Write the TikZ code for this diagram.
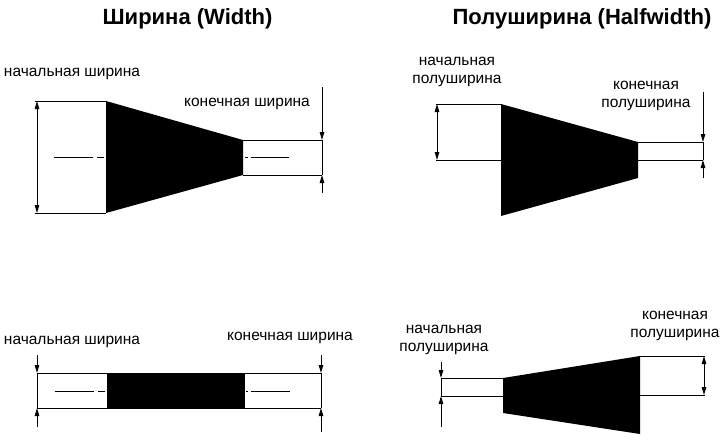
\documentclass[tikz,border=0pt]{standalone}
\usepackage{fontspec}
\setmainfont{Liberation Sans}
\usetikzlibrary{arrows.meta}
\tikzset{
  heading/.style={font=\fontsize{22}{24}\selectfont\bfseries},
  label/.style={font=\fontsize{15.5}{17.5}\selectfont,align=center,inner sep=0pt},
  edge/.style={line width=1pt,black},
  dim/.style={line width=1pt,black,-{Triangle[length=8pt,width=4.5pt]}},
  dimboth/.style={line width=1pt,black,{Triangle[length=8pt,width=4.5pt]}-{Triangle[length=8pt,width=4.5pt]}},
  axis/.style={line width=1pt,black},
}
\begin{document}
\begin{tikzpicture}[x=1pt,y=-1pt]
  \useasboundingbox (0,0) rectangle (721,440);

  % headings
  \node[heading] at (187.5,19) (widthtitle) {Ширина (Width)};
  \node[heading] at (582,19) (halfwidthtitle) {Полуширина (Halfwidth)};

  % upper left
  \coordinate (a1) at (35,101);
  \coordinate (a2) at (35,213);
  \coordinate (a3) at (106,101);
  \coordinate (a4) at (106,213);
  \coordinate (a5) at (243,140);
  \coordinate (a6) at (243,175);
  \coordinate (a7) at (322,140);
  \coordinate (a8) at (322,175);
  \coordinate (a9) at (322,87);
  \coordinate (a10) at (322,193);
  \fill (a3) -- (a5) -- (a6) -- (a4) -- cycle;
  \draw[edge] (a1) -- (a3) (a2) -- (a4) (a5) -- (a7) (a6) -- (a8);
  \draw[dimboth] (37,101) -- (37,213);
  \draw[dim] (a9) -- (a7);
  \draw[dim] (a10) -- (a8);
  \draw[edge] (a7) -- (a8);
  \draw[axis] (54,157.5) -- (93,157.5) (97,157.5) -- (104,157.5);
  \draw[axis] (245,157.5) -- (248,157.5) (251,157.5) -- (289,157.5);
  \node[label] at (72,74) (a11) {начальная ширина};
  \node[label] at (247,104) (a12) {конечная ширина};

  % upper right
  \coordinate (b1) at (436,104);
  \coordinate (b2) at (436,160);
  \coordinate (b3) at (501,104);
  \coordinate (b4) at (501,160);
  \coordinate (b5) at (501,216);
  \coordinate (b6) at (638,142);
  \coordinate (b7) at (638,160);
  \coordinate (b8) at (638,178);
  \coordinate (b9) at (703,142);
  \coordinate (b10) at (703,160);
  \coordinate (b11) at (703,92);
  \coordinate (b12) at (703,178);
  \fill (b3) -- (b6) -- (b8) -- (b5) -- cycle;
  \draw[edge] (b1) -- (b3) (b2) -- (b4) (b6) -- (b9) (b7) -- (b10);
  \draw[dimboth] (437,104) -- (437,160);
  \draw[dim] (b11) -- (b9);
  \draw[dim] (b12) -- (b10);
  \draw[edge] (b9) -- (b10);
  \node[label] at (457,72) (b13) {начальная\\полуширина};
  \node[label] at (646,96) (b14) {конечная\\полуширина};

  % lower left
  \coordinate (c1) at (37,373);
  \coordinate (c2) at (37,408);
  \coordinate (c3) at (107,373);
  \coordinate (c4) at (107,408);
  \coordinate (c5) at (245,373);
  \coordinate (c6) at (245,408);
  \coordinate (c7) at (321,373);
  \coordinate (c8) at (321,408);
  \coordinate (c9) at (37,355);
  \coordinate (c10) at (37,427);
  \coordinate (c11) at (321,355);
  \coordinate (c12) at (321,432);
  \fill (c3) -- (c5) -- (c6) -- (c4) -- cycle;
  \draw[edge] (c1) -- (c7) (c2) -- (c8);
  \draw[edge] (c1) -- (c2) (c7) -- (c8);
  \draw[dim] (c9) -- (c1);
  \draw[dim] (c10) -- (c2);
  \draw[dim] (c11) -- (c7);
  \draw[dim] (c12) -- (c8);
  \draw[axis] (55,391) -- (94,391) (98,391) -- (105,391);
  \draw[axis] (246,391) -- (248,391) (251,391) -- (290,391);
  \node[label] at (72,342) (c13) {начальная ширина};
  \node[label] at (290,338) (c14) {конечная ширина};

  % lower right
  \coordinate (d1) at (441,378);
  \coordinate (d2) at (441,396);
  \coordinate (d3) at (503,378);
  \coordinate (d4) at (503,396);
  \coordinate (d5) at (503,413);
  \coordinate (d6) at (640,356);
  \coordinate (d7) at (640,395);
  \coordinate (d8) at (640,434);
  \coordinate (d9) at (705,356);
  \coordinate (d10) at (705,395);
  \coordinate (d11) at (441,362);
  \coordinate (d12) at (441,427);
  \fill (d3) -- (d6) -- (d8) -- (d5) -- cycle;
  \draw[edge] (d1) -- (d3) (d2) -- (d4) (d6) -- (d9) (d7) -- (d10);
  \draw[dimboth] (704,356) -- (704,395);
  \draw[dim] (d11) -- (d1);
  \draw[dim] (d12) -- (d2);
  \draw[edge] (d1) -- (d2);
  \node[label] at (444,340) (d13) {начальная\\полуширина};
  \node[label] at (675,326) (d14) {конечная\\полуширина};
\end{tikzpicture}
\end{document}
